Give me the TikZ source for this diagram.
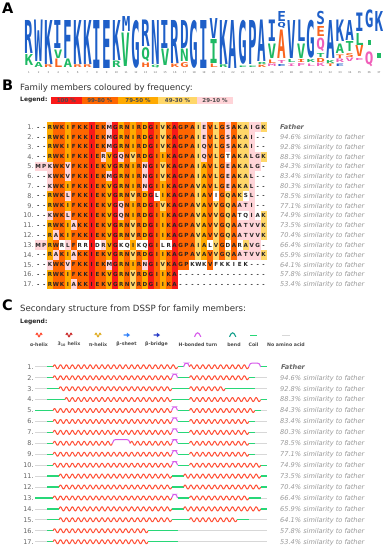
\documentclass[tikz,border=0pt]{standalone}
\usepackage{fontspec}
\usepackage{graphicx}
\setmainfont{DejaVu Sans}
\newfontfamily\logofont{DejaVu Sans Mono}
\usetikzlibrary{positioning}

% logo colours
\definecolor{logob}{RGB}{30,95,200}
\definecolor{logog}{RGB}{30,185,100}
\definecolor{logoo}{RGB}{250,100,30}
\definecolor{logop}{RGB}{240,95,185}
% frequency classes
\definecolor{clr}{RGB}{250,25,25}
\definecolor{clo}{RGB}{255,102,0}
\definecolor{cly}{RGB}{255,170,0}
\definecolor{cll}{RGB}{255,215,105}
\definecolor{clp}{RGB}{255,212,216}
\definecolor{clw}{RGB}{255,255,255}
\definecolor{cln}{RGB}{255,255,255}
% secondary structure
\definecolor{helixred}{RGB}{255,80,55}
\definecolor{helixdark}{RGB}{205,50,50}
\definecolor{helixgold}{RGB}{225,175,40}
\definecolor{sheetblue}{RGB}{50,130,250}
\definecolor{bridgeblue}{RGB}{40,60,200}
\definecolor{turnpink}{RGB}{215,90,235}
\definecolor{bendteal}{RGB}{20,160,140}
\definecolor{coilgreen}{RGB}{40,215,120}
\definecolor{gapgray}{RGB}{215,215,215}

\ExplSyntaxOn
\cs_new:Npn \alnitem #1#2 { \str_item:Nn #1 {#2} }
\ExplSyntaxOff

\tikzset{
  panel/.style={font=\fontsize{14.5}{16}\selectfont\bfseries, anchor=base west, inner sep=0},
  heading/.style={font=\fontsize{8.6}{10}\selectfont, text=black!80, anchor=base west, inner sep=0},
  legtitle/.style={font=\fontsize{6}{7}\selectfont\bfseries, text=black!85, anchor=west, inner sep=0},
  legbox/.style={minimum height=7.5, inner sep=0, font=\fontsize{5.5}{6}\selectfont\bfseries, text=black!70},
  logoletter/.style={anchor=north, inner sep=0},
  posnum/.style={font=\fontsize{2.6}{3}\selectfont, text=black!60, inner sep=0},
  rowlabel/.style={anchor=base east, font=\fontsize{6.5}{7}\selectfont, text=black!60, inner sep=0},
  cell/.style={anchor=base, inner sep=0, font=\fontsize{5.6}{6}\selectfont\bfseries, text=black!85},
  simtext/.style={anchor=base west, font=\fontsize{6.6}{7}\selectfont\itshape, text=black!40, inner sep=0},
  fathertext/.style={simtext, font=\fontsize{6.6}{7}\selectfont\bfseries\itshape, text=black!60},
  keylabel/.style={font=\fontsize{4.7}{5}\selectfont\bfseries, text=black!70, inner sep=0},
  helixline/.style={draw=helixred, line width=1},
  coilline/.style={draw=coilgreen, line width=1.3},
  turnline/.style={draw=turnpink, line width=1},
  gapline/.style={draw=gapgray, line width=0.7},
}

% one piece of a structure row: first column, last column, y
\newcommand\helixpart[3]{%
  \pgfmathsetmacro\xa{35.3+(#1-1)*5.93}%
  \pgfmathsetmacro\xb{35.3+#2*5.93}%
  \pgfmathtruncatemacro\ns{(#2-#1+1)*10+1}%
  \draw[helixline] plot[domain=\xa:\xb, samples=\ns] (\x,{#3-2*sin((\x-\xa)/5.93*360)});}
\newcommand\coilpart[3]{%
  \pgfmathsetmacro\xa{35.3+(#1-1)*5.93}%
  \pgfmathsetmacro\xb{35.3+#2*5.93}%
  \draw[coilline] (\xa,#3) -- (\xb,#3);}
\newcommand\turnpart[3]{%
  \pgfmathsetmacro\xa{35.3+(#1-1)*5.93}%
  \pgfmathsetmacro\xb{35.3+#2*5.93}%
  \draw[turnline] (\xa,#3) .. controls ({\xa+1.6},{#3-3.6}) .. ({\xa+3},{#3-3.6}) -- ({\xb-3},{#3-3.6}) .. controls ({\xb-1.6},{#3-3.6}) .. (\xb,#3);}
\newcommand\nonepart[3]{%
  \pgfmathsetmacro\xa{35.3+(#1-1)*5.93}%
  \pgfmathsetmacro\xb{35.3+#2*5.93}%
  \draw[gapline] (\xa,#3) -- (\xb,#3);}

\begin{document}
\begin{tikzpicture}[x=1pt, y=-1pt]
  \fill[white] (0,0) rectangle (388,550);
  \useasboundingbox (0,0) rectangle (388,550);

  % Panel A: sequence logo
  \node[panel] (pa) at (2,13.3) {A};
  \foreach \cn/\ltr/\lc/\tp/\bt [count=\n] in {
      1/R/b/20/53, 1/K/g/54.5/65.5, 2/W/b/20/61.5, 2/A/g/62.5/67.5,
      3/K/b/20/64, 3/R/o/64.8/67.5, 4/I/b/20/48, 4/V/g/49.5/58, 4/L/o/59/67.5,
      5/F/b/20/58, 5/A/g/59/67.5, 6/K/b/20/64, 6/R/o/64.8/67.5,
      7/K/b/20/64, 7/R/o/64.8/67.5, 8/I/b/20/68, 9/E/b/20/68,
      10/K/b/20/60, 10/R/g/61/67.5, 11/M/b/16.5/31.5, 11/V/g/33/66.5,
      12/G/b/20/68, 13/R/b/20/46.5, 13/Q/g/47.5/61.5, 13/H/o/63/67.5,
      14/N/b/20/64, 14/Q/g/64.8/67.5, 15/I/b/20/48, 15/V/g/49/65.5,
      16/R/b/20/63, 16/K/o/64/67.5, 17/D/b/20/48, 17/N/g/49/61.5, 17/G/o/62.5/67.5,
      18/G/b/20/68, 19/I/b/20/68, 20/V/b/18/38, 20/I/g/39/63, 20/L/o/64/67.5,
      21/K/b/20/64, 21/R/g/64.8/67.5, 22/A/b/20/68,
      23/G/b/20/64, 23/E/g/65.5/67, 24/P/b/20/64, 24/E/g/65.5/67,
      25/A/b/20/61.5, 25/R/g/62.5/64.5, 25/K/o/65/67.5,
      26/I/b/20/41.5, 26/V/g/43.5/58, 26/L/o/59.5/63, 26/M/p/64/66.5,
      27/E/b/11.5/21.5, 27/Q/b/22/28, 27/A/o/29.5/58, 27/T/p/60/63, 27/E/b/64.5/66.5,
      28/V/b/20/58, 28/L/g/59.5/62.5, 28/I/p/64/66.5,
      29/L/b/20/41.5, 29/V/g/43.5/58, 29/I/o/59.5/62.5, 29/F/p/63.5/66.5,
      30/G/b/20/58, 30/K/g/59.5/62.5, 30/L/p/64/66.5,
      31/S/b/11.5/25, 31/E/o/26.5/36.5, 31/Q/p/38/51.5, 31/T/g/53/57, 31/D/o/58/62, 31/K/p/63/66.5,
      32/A/b/20/58, 32/K/g/60/63, 32/T/o/64/66.5,
      33/K/b/20/41.5, 33/A/g/43.5/53, 33/T/o/54.5/58, 33/R/p/59/62.5, 33/E/b/64/66.5,
      34/A/b/20/40, 34/T/g/41.5/51.5, 34/S/o/53/57, 34/V/p/58/61.5,
      35/I/b/13/31.5, 35/L/g/33/45, 35/V/o/45.5/56.5, 35/E/p/58.5/60.5,
      36/G/b/10/28, 36/Q/p/51.5/66.5, 37/K/b/11.5/31.5} {
    \pgfmathsetmacro\hgt{\bt-\tp}
    \node[logoletter, text=logo\lc] (logo\n) at ({29+(\cn-1)*9.72},\tp)
      {\resizebox*{8.6pt}{\hgt pt}{\logofont\bfseries\ltr}};
  }
  \fill[logog] (367.5,40) rectangle (371,45);
  \fill[logog] (377.2,53) rectangle (380.7,58);
  \foreach \cn in {1,...,37}
    \node[posnum] (pos\cn) at ({29+(\cn-1)*9.72},72.8) {\cn};

  % Panel B: alignment coloured by frequency
  \node[panel] (pb) at (2,90) {B};
  \node[heading] (btitle) at (20,90.2) {Family members coloured by frequency:};
  \node[legtitle] (blegend) at (20,100.3) {Legend:};
  \foreach \n/\xl/\xr/\cl/\txt in {1/51/81.7/clr/100 \%, 2/81.7/118/clo/99-80 \%,
      3/118/158/cly/79-50 \%, 4/158/197/cll/49-30 \%, 5/197/233/clp/29-10 \%}
    \node[legbox, fill=\cl, minimum width={\xr-\xl}] (bkey\n) at ({(\xl+\xr)/2},100.3) {\txt};

  % residues, then frequency class per block of ten columns
  \foreach \rw/\resid/\ga/\gb/\gc/\gd in {
      1/--RWKIFKKIEKMGRNIRDGIVKAGPAIEVLGSAKAIGK/nnyooyooor/oopryoyoyr/olorooolpo/lopollppl,
      2/--RWKIFKKIEKMGRNIRDGIVKAGPAIEVLGSAKAI--/nnyooyooor/oopryoyoyr/olorooolpo/lopollpnn,
      3/--RWKIFKKIEKMGRNIRDGIVKAGPAIQVLGSAKAI--/nnyooyooor/oopryoyoyr/olorooolpo/lopollpnn,
      4/--RWKIFKKIERVGQNVRDGIIKAGPAIQVLGTAKALGK/nnyooyooor/opyrpoloyr/oyorooolpo/lowollppl,
      5/MPKWKVFKKIEKVGRNIRNGIVKAGPAIAVLGEAKALG-/pppoopooor/ooyryoyopr/olorooolyo/lopollppn,
      6/--KWKVFKKIEKMGRNIRNGIVKAGPAIAVLGEAKAL--/nnpoopooor/oopryoyopr/olorooolyo/lopollpnn,
      7/--KWKIFKKIEKVGRNIRNGIIKAGPAVAVLGEAKAL--/nnpooyooor/ooyryoyopr/oyorooolyo/lopollpnn,
      8/--RWKLFKKIEKVGRNVRDGLIKAGPAIAVIGQAKSL--/nnyoopooor/ooyryoloyr/wyorooolyo/wololwpnn,
      9/--RWKIFKKIEKVGQNIRDGIVKAGPAVAVVGQAATI--/nnyooyooor/ooyrpoyoyr/olorooolyo/lolopppnn,
      10/--KWKLFKKIEKVGQNIRDGIIKAGPAVAVVGQATQIAK/nnpoopooor/ooyrpoyoyr/oyorooolyo/lolowwpwl,
      11/--RWKIAKKIEKVGRNVRDGIIKAGPAVAVVGQAATVVK/nnyooypoor/ooyryoloyr/oyorooolyo/loloppppl,
      12/--RAKIFKKIEKVGRNVRDGIIKAGPAVAVVGQAATVVK/nnypoyooor/ooyryoloyr/oyorooolyo/loloppppl,
      13/MPRWRLFRRIDRVGKQIKQGILRAGPAIALVGDARAVG-/ppyowpowwr/wpyrwwywwr/owwrooolyw/lowowlppn,
      14/--RAKIAKKIEKVGRNVRDGIIKAGPAVAVVGQAATVVK/nnypoypoor/ooyryoloyr/oyorooolyo/loloppppl,
      15/--KWKVFKKIEKMGRNIRNGIVKAGPKWKVFKKIEK---/nnpoopooor/oopryoyopr/oloroowwwo/wwwwwwnnn,
      16/--RWKIFKKIEKVGRNVRDGIIKA---------------/nnyooyooor/ooyryoloyr/oyornnnnnn/nnnnnnnnn,
      17/--RWKIAKKIEKVGRNVRDGIIKA---------------/nnyooypoor/ooyryoloyr/oyornnnnnn/nnnnnnnnn} {
    \pgfmathsetmacro\ry{127.2+(\rw-1)*9.82}
    \edef\freq{\ga\gb\gc\gd}
    \node[rowlabel] (brow\rw) at (33.8,{\ry+2.4}) {\rw.};
    \foreach \j in {1,...,39} {
      \edef\res{\alnitem\resid\j}\edef\fcl{\alnitem\freq\j}
      \fill[cl\fcl] ({35.3+(\j-1)*5.93},{\ry-4.91}) rectangle +(5.98,9.87);
      \node[cell] (bcell\rw-\j) at ({35.3+(\j-0.5)*5.93},{\ry+2.05}) {\res};
    }
  }
  \node[fathertext] (bfather) at (280,{127.2+2.4}) {Father};
  \foreach \rw/\pc in {2/94.6, 3/92.8, 4/88.3, 5/84.3, 6/83.4, 7/80.3, 8/78.5, 9/77.1,
      10/74.9, 11/73.5, 12/70.4, 13/66.4, 14/65.9, 15/64.1, 16/57.8, 17/53.4} {
    \node[simtext] (bsim\rw) at (280,{127.2+(\rw-1)*9.82+2.4}) {\pc\% similarity to father};
    \node[simtext] (csim\rw) at (280,{366.8+(\rw-1)*10.93+2.4}) {\pc\% similarity to father};
  }

  % Panel C: secondary structure
  \node[panel] (pc) at (2,310) {C};
  \node[heading] (ctitle) at (20,311.5) {Secondary structure from DSSP for family members:};
  \node[legtitle] (clegend) at (20,321.7) {Legend:};
  \foreach \n/\xc/\txt in {1/39/α-helix, 2/69/3\textsubscript{10} helix, 3/98/π-helix,
      4/126.5/β-sheet, 5/156.5/β-bridge, 6/198/H-bonded turn, 7/234/bend,
      8/253.5/Coil, 9/286/No amino acid}
    \node[keylabel] (ckey\n) at (\xc,344.3) {\txt};
  \draw[helixline, line width=1.1] plot[domain=0:6, samples=40] ({36+\x},{335-1.8*sin(\x*90)});
  \draw[helixline, draw=helixdark, line width=1.1] plot[domain=0:6, samples=40] ({66+\x},{335-1.8*sin(\x*90)});
  \draw[helixline, draw=helixgold, line width=1.1] plot[domain=0:6, samples=40] ({95+\x},{335-1.8*sin(\x*90)});
  \fill[sheetblue] (123.5,334.3) -- (126.8,334.3) -- (126.8,332.6) -- (130,335) -- (126.8,337.4) -- (126.8,335.7) -- (123.5,335.7) -- cycle;
  \fill[bridgeblue] (153.5,334.3) -- (156.8,334.3) -- (156.8,332.6) -- (160,335) -- (156.8,337.4) -- (156.8,335.7) -- (153.5,335.7) -- cycle;
  \draw[turnline, line width=1.1] (194.5,336.8) .. controls (196.5,331.5) and (198.8,331.5) .. (200.8,336.8);
  \draw[turnline, draw=bendteal, line width=1.1] (229.5,336.8) .. controls (231.5,331.5) and (233.8,331.5) .. (235.8,336.8);
  \draw[coilline] (250,335.5) -- (257,335.5);
  \draw[gapline] (282,335.5) -- (290,335.5);

  \foreach \rw/\segs in {
      1/{none/1/2,coil/3/3,helix/4/24,coil/25/25,turn/26/26,helix/27/36,turn/37/38,coil/39/39},
      2/{none/1/2,coil/3/3,helix/4/23,turn/24/24,coil/25/26,helix/27/36,coil/37/37,none/38/39},
      3/{none/1/2,coil/3/4,helix/5/23,coil/24/26,helix/27/32,coil/33/37,none/38/39},
      4/{none/1/2,coil/3/5,helix/6/23,coil/24/26,helix/27/38,coil/39/39},
      5/{coil/1/3,helix/4/23,turn/24/24,coil/25/26,helix/27/37,coil/38/38,none/39/39},
      6/{none/1/2,coil/3/3,helix/4/23,turn/24/24,coil/25/26,helix/27/36,coil/37/37,none/38/39},
      7/{none/1/2,coil/3/3,helix/4/23,turn/24/24,coil/25/26,helix/27/36,coil/37/37,none/38/39},
      8/{none/1/2,coil/3/3,helix/4/13,turn/14/16,helix/17/23,turn/24/24,coil/25/26,helix/27/36,coil/37/37,none/38/39},
      9/{none/1/2,coil/3/3,helix/4/23,turn/24/24,coil/25/26,helix/27/36,coil/37/37,none/38/39},
      10/{none/1/2,coil/3/3,helix/4/23,turn/24/24,coil/25/26,helix/27/38,coil/39/39},
      11/{none/1/2,coil/3/4,helix/5/23,coil/24/25,helix/26/38,coil/39/39},
      12/{none/1/2,coil/3/4,helix/5/23,coil/24/25,helix/26/38,coil/39/39},
      13/{coil/1/3,helix/4/23,turn/24/24,coil/25/26,helix/27/36,coil/37/38,none/39/39},
      14/{none/1/2,coil/3/4,helix/5/23,coil/24/25,helix/26/38,coil/39/39},
      15/{none/1/2,coil/3/4,helix/5/23,coil/24/26,helix/27/34,coil/35/36,none/37/39},
      16/{none/1/2,coil/3/3,helix/4/19,coil/20/24,none/25/39},
      17/{none/1/2,coil/3/3,helix/4/19,coil/20/24,none/25/39}} {
    \pgfmathsetmacro\cy{366.8+(\rw-1)*10.93}
    \node[rowlabel] (crow\rw) at (33.8,{\cy+2.4}) {\rw.};
    \foreach \kind/\segA/\segB in \segs {\csname\kind part\endcsname{\segA}{\segB}{\cy}}
  }
  \node[fathertext] (cfather) at (281,{366.8+2.4}) {Father};
\end{tikzpicture}
\end{document}
